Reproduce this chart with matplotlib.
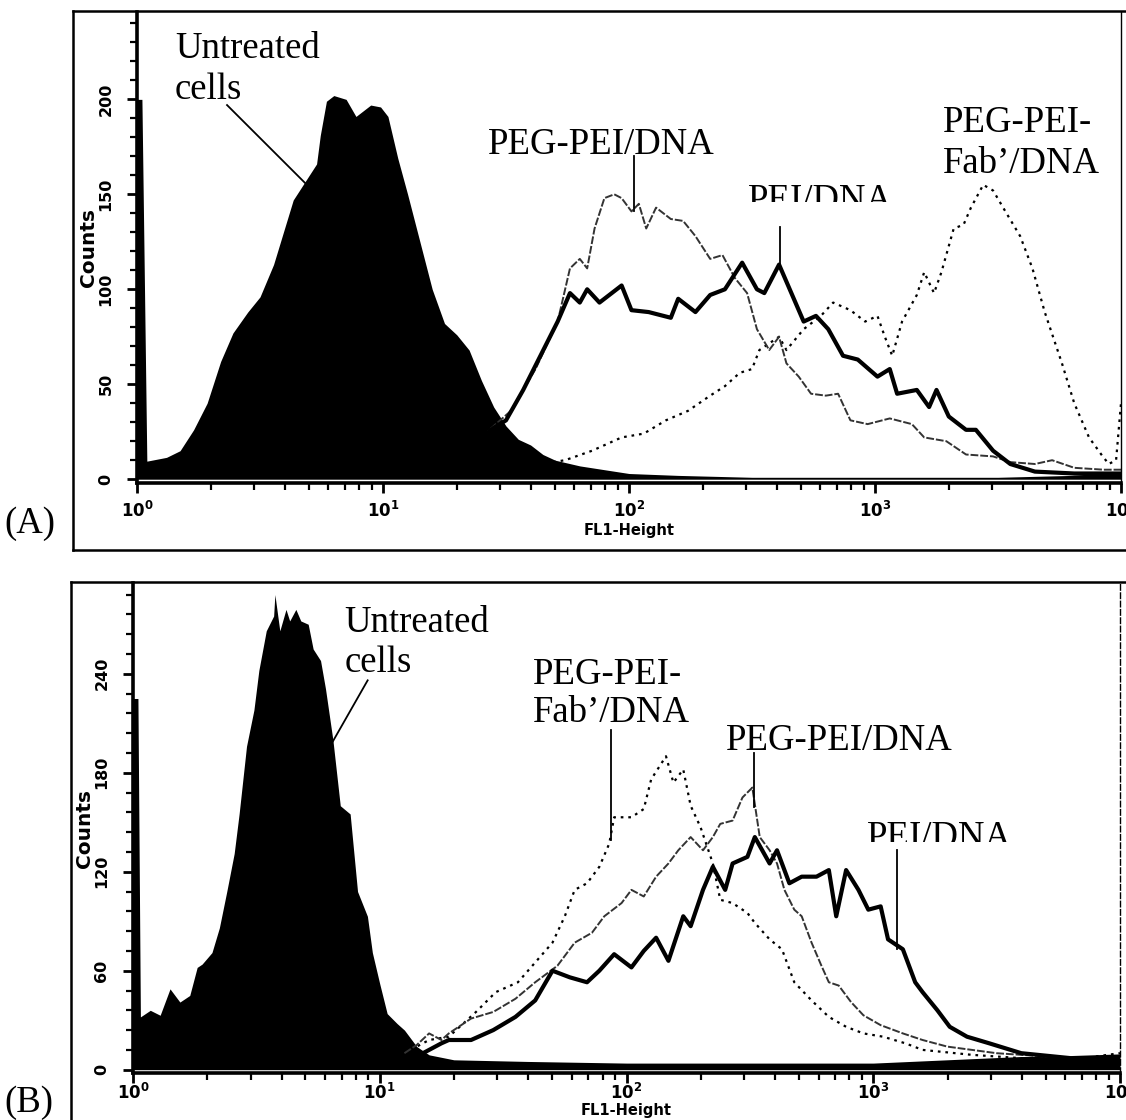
import numpy as np
import matplotlib
matplotlib.use('Agg')
import matplotlib.pyplot as plt
from matplotlib.lines import Line2D
from matplotlib.ticker import FixedLocator, LogLocator, NullFormatter
from matplotlib.transforms import Bbox

# ---------------- panel A data (x in decades of FL1-Height, y in counts) ----------------
a_untr_d = [0.00, 0.02, 0.04, 0.12, 0.175, 0.23, 0.285, 0.34, 0.39, 0.45, 0.50, 0.555, 0.595,
            0.635, 0.69, 0.73, 0.745, 0.77, 0.80, 0.85, 0.89, 0.95, 0.99, 1.02, 1.06, 1.10, 1.15,
            1.20, 1.25, 1.30, 1.35, 1.40, 1.45, 1.50, 1.55, 1.60, 1.65, 1.70, 1.80, 1.90, 2.00,
            2.20, 2.50, 3.00, 3.50, 3.80, 3.90, 4.00]
a_untr_c = [200, 200, 9.5, 11.5, 15, 26, 40, 62, 77, 88, 96, 113, 130,
            147, 158, 166, 181, 199, 202, 200, 191, 197, 196, 191, 169, 150, 125,
            100, 82, 76, 68, 52, 38, 28, 21, 18, 13, 10, 7, 5, 3,
            2, 1, 1, 1, 2, 3, 3]

a_pei_d = [1.30, 1.35, 1.40, 1.45, 1.50, 1.57, 1.64, 1.71, 1.76, 1.80, 1.83, 1.88, 1.92, 1.97,
           2.01, 2.08, 2.17, 2.20, 2.27, 2.33, 2.39, 2.46, 2.52, 2.55, 2.61, 2.66, 2.71, 2.76,
           2.81, 2.87, 2.93, 3.01, 3.06, 3.09, 3.17, 3.22, 3.25, 3.30, 3.37, 3.41, 3.48, 3.55,
           3.65, 3.81, 4.00]
a_pei_c = [8, 14, 22, 27, 31, 47, 65, 83, 98, 93, 100, 93, 97, 102,
           89, 88, 85, 95, 88, 97, 100, 114, 100, 98, 113, 98, 83, 86,
           79, 65, 63, 54, 58, 45, 47, 38, 47, 33, 26, 26, 15, 8,
           4, 3, 3]

a_peg_d = [1.30, 1.35, 1.40, 1.45, 1.52, 1.62, 1.71, 1.76, 1.80, 1.83, 1.86, 1.90, 1.94, 1.97,
           2.01, 2.04, 2.07, 2.11, 2.17, 2.22, 2.27, 2.33, 2.38, 2.43, 2.48, 2.52, 2.57, 2.61,
           2.64, 2.69, 2.74, 2.80, 2.85, 2.90, 2.97, 3.06, 3.15, 3.20, 3.29, 3.37, 3.48, 3.55,
           3.65, 3.72, 3.81, 3.93, 4.00]
a_peg_c = [8, 14, 22, 28, 36, 58, 83, 111, 116, 111, 132, 148, 150, 148,
           141, 145, 132, 143, 137, 136, 128, 116, 118, 106, 98, 79, 68, 75,
           61, 54, 45, 44, 45, 31, 29, 32, 29, 22, 20, 13, 12, 9,
           8, 10, 6, 5, 5]

a_fab_d = [1.54, 1.74, 1.85, 1.97, 2.06, 2.15, 2.24, 2.33, 2.39, 2.45, 2.50, 2.53, 2.61, 2.64,
           2.71, 2.78, 2.83, 2.90, 2.96, 3.01, 3.04, 3.07, 3.11, 3.17, 3.20, 3.24, 3.27, 3.32,
           3.36, 3.39, 3.44, 3.48, 3.53, 3.59, 3.64, 3.69, 3.76, 3.81, 3.87, 3.92, 3.95, 3.98,
           4.00]
a_fab_c = [6, 10, 15, 22, 24, 31, 36, 44, 49, 56, 58, 68, 75, 68,
           79, 86, 93, 89, 83, 86, 75, 65, 83, 97, 109, 98, 109, 132,
           134, 143, 155, 152, 141, 128, 111, 88, 61, 40, 22, 13, 8, 10,
           40]

# ---------------- panel B data ----------------
b_untr_d = [0.00, 0.02, 0.03, 0.07, 0.11, 0.15, 0.19, 0.23, 0.26, 0.28, 0.32, 0.35, 0.38, 0.41,
            0.43, 0.46, 0.49, 0.51, 0.54, 0.57, 0.575, 0.595, 0.62, 0.635, 0.66, 0.68, 0.71,
            0.73, 0.76, 0.78, 0.81, 0.84, 0.88, 0.91, 0.95, 0.97, 1.00, 1.03, 1.07, 1.10, 1.15,
            1.20, 1.30, 1.60, 2.00, 2.50, 3.00, 3.30, 3.60, 4.00]
b_untr_c = [225, 225, 32, 36, 33, 49, 41, 45, 62, 64, 71, 86, 108, 131,
            155, 196, 218, 242, 266, 275, 288, 266, 279, 272, 279, 272, 270,
            255, 248, 231, 200, 160, 155, 108, 93, 71, 52, 34, 28, 24, 14,
            9, 6, 5, 4, 4, 4, 6, 8, 8]

b_fab_d = [1.10, 1.15, 1.20, 1.28, 1.39, 1.47, 1.56, 1.63, 1.70, 1.75, 1.79, 1.84, 1.89, 1.93,
           1.95, 2.02, 2.07, 2.10, 2.16, 2.19, 2.23, 2.26, 2.30, 2.35, 2.38, 2.43, 2.49, 2.52,
           2.58, 2.63, 2.68, 2.75, 2.82, 2.89, 2.96, 3.04, 3.13, 3.20, 3.40, 3.60, 3.80, 4.00]
b_fab_c = [10, 14, 18, 20, 35, 47, 53, 65, 77, 93, 109, 113, 123, 137,
           153, 153, 158, 176, 190, 174, 182, 160, 147, 125, 103, 101, 95, 89,
           79, 73, 53, 42, 32, 26, 22, 20, 16, 12, 9, 7, 6, 10]

b_peg_d = [1.10, 1.15, 1.20, 1.25, 1.28, 1.37, 1.46, 1.55, 1.63, 1.72, 1.79, 1.86, 1.91, 1.98,
           2.02, 2.07, 2.12, 2.17, 2.21, 2.26, 2.31, 2.35, 2.38, 2.43, 2.47, 2.51, 2.52, 2.54,
           2.58, 2.61, 2.64, 2.68, 2.71, 2.75, 2.79, 2.82, 2.86, 2.91, 2.96, 3.03, 3.12, 3.20,
           3.30, 3.50, 3.70, 3.90, 4.00]
b_peg_c = [10, 15, 22, 18, 22, 31, 35, 43, 53, 63, 77, 83, 93, 101,
           109, 105, 117, 125, 133, 141, 133, 141, 149, 151, 165, 171, 161, 141,
           133, 125, 109, 97, 93, 77, 63, 53, 51, 41, 33, 27, 22, 18,
           14, 10, 8, 7, 8]

b_pei_d = [1.15, 1.20, 1.25, 1.28, 1.37, 1.46, 1.55, 1.63, 1.70, 1.77, 1.84, 1.89, 1.95, 2.02,
           2.07, 2.12, 2.17, 2.23, 2.26, 2.31, 2.35, 2.40, 2.43, 2.49, 2.52, 2.58, 2.61, 2.66,
           2.71, 2.77, 2.82, 2.85, 2.89, 2.94, 2.98, 3.03, 3.06, 3.12, 3.17, 3.20, 3.26, 3.31,
           3.38, 3.47, 3.60, 3.80, 4.00]
b_pei_c = [8, 12, 16, 18, 18, 24, 32, 42, 60, 56, 53, 60, 70, 62,
           72, 80, 66, 93, 87, 109, 123, 109, 125, 129, 141, 125, 133, 113,
           117, 117, 121, 93, 121, 109, 97, 99, 79, 73, 53, 47, 36, 26,
           20, 16, 10, 7, 8]

x_ticks = [1, 10, 100, 1000, 10000]
x_labels = [r'$\mathbf{10^{0}}$', r'$\mathbf{10^{1}}$', r'$\mathbf{10^{2}}$',
            r'$\mathbf{10^{3}}$', r'$\mathbf{10^{4}}$']
a_yticks = [0, 50, 100, 150, 200]
b_yticks = [0, 60, 120, 180, 240]

W, H = 1126, 1120
fig = plt.figure(figsize=(W / 100, H / 100), dpi=100)
serif = ['Liberation Serif', 'DejaVu Serif']
lab_fs = 26.5


def px(x, y):
    # figure pixel (from top-left) -> figure fraction
    return x / W, 1 - y / H


def style_axis(ax, ymax, yticks, yminor, xpad, xlabelpad):
    ax.set_xscale('log')
    ax.set_xlim(1, 1e4)
    ax.set_ylim(-2, ymax)
    ax.spines['top'].set_visible(False)
    ax.spines['left'].set_linewidth(2.6)
    ax.spines['bottom'].set_linewidth(2.6)
    ax.spines['right'].set_linewidth(1.0)
    ax.set_xticks(x_ticks)
    ax.set_xticklabels(x_labels, fontsize=12)
    ax.xaxis.set_minor_locator(LogLocator(base=10, subs=np.arange(2, 10)))
    ax.xaxis.set_minor_formatter(NullFormatter())
    ax.set_yticks(yticks)
    ax.set_yticklabels([str(v) for v in yticks], rotation=90, va='center',
                       fontsize=11.5, fontweight='bold')
    ax.yaxis.set_minor_locator(FixedLocator(yminor))
    ax.tick_params(which='major', direction='out', length=7, width=2)
    ax.tick_params(axis='x', which='major', pad=xpad)
    ax.tick_params(axis='y', which='major', pad=10)
    ax.tick_params(which='minor', direction='out', length=5, width=1.6)
    ax.set_ylabel('Counts', fontsize=14.5, fontweight='bold', labelpad=0)
    ax.set_xlabel('FL1-Height', fontsize=10.5, fontweight='bold', labelpad=xlabelpad)
    ax.set_facecolor('none')


# ---------------- panel A ----------------
axA = fig.add_axes([137 / W, 1 - 483 / H, (1121 - 137) / W, (483 - 12) / H])
axA.fill_between(10 ** np.array(a_untr_d), a_untr_c, 0, color='black', lw=0)
axA.plot(10 ** np.array(a_fab_d), a_fab_c, color='black', lw=1.6, ls=(0, (1.2, 2.2)))
axA.plot(10 ** np.array(a_peg_d), a_peg_c, color='#333333', lw=1.4, ls=(0, (4, 1)))
axA.plot(10 ** np.array(a_pei_d), a_pei_c, color='black', lw=3.0)
style_axis(axA, 246, a_yticks, np.arange(0, 250, 10), 6, 1)

axA.text(10 ** 0.154, 222, 'Untreated', family=serif, fontsize=lab_fs, va='baseline')
axA.text(10 ** 0.154, 200, 'cells', family=serif, fontsize=lab_fs, va='baseline')
axA.plot(10 ** np.array([0.366, 0.683]), [197, 156], color='black', lw=1.3)
axA.text(10 ** 1.886, 171, 'PEG-PEI/DNA', family=serif, fontsize=lab_fs, ha='center', va='baseline')
axA.plot([10 ** 2.02, 10 ** 2.02], [170, 141], color='black', lw=1.3)
tA = axA.text(10 ** 2.78, 142, 'PEI/DNA', family=serif, fontsize=lab_fs, ha='center', va='baseline')
tA.set_clip_box(Bbox.from_extents(0, H - 202, W, H))
tA.set_clip_on(True)
axA.plot([10 ** 2.614, 10 ** 2.614], [133, 113], color='black', lw=1.3)
axA.text(10 ** 3.276, 183, 'PEG-PEI-', family=serif, fontsize=lab_fs, va='baseline')
axA.text(10 ** 3.276, 161, 'Fab\u2019/DNA', family=serif, fontsize=lab_fs, va='baseline')

# ---------------- panel B ----------------
axB = fig.add_axes([133 / W, 1 - 1073 / H, (1120 - 133) / W, (1073 - 583) / H])
axB.fill_between(10 ** np.array(b_untr_d), b_untr_c, 0, color='black', lw=0)
axB.plot(10 ** np.array(b_fab_d), b_fab_c, color='black', lw=1.6, ls=(0, (1.2, 2.2)))
axB.plot(10 ** np.array(b_peg_d), b_peg_c, color='#333333', lw=1.4, ls=(0, (4, 1)))
axB.plot(10 ** np.array(b_pei_d), b_pei_c, color='black', lw=3.0)
style_axis(axB, 295, b_yticks, np.arange(0, 300, 12), 0, 0)
axB.spines['right'].set_linestyle((0, (4, 2)))

axB.text(10 ** 0.858, 265, 'Untreated', family=serif, fontsize=lab_fs, va='baseline')
axB.text(10 ** 0.858, 241, 'cells', family=serif, fontsize=lab_fs, va='baseline')
axB.plot(10 ** np.array([0.951, 0.81]), [236, 199], color='black', lw=1.3)
axB.text(10 ** 1.619, 234, 'PEG-PEI-', family=serif, fontsize=lab_fs, va='baseline')
axB.text(10 ** 1.619, 211, 'Fab\u2019/DNA', family=serif, fontsize=lab_fs, va='baseline')
axB.plot([10 ** 1.939, 10 ** 1.939], [206, 139], color='black', lw=1.3)
axB.text(10 ** 2.862, 194, 'PEG-PEI/DNA', family=serif, fontsize=lab_fs, ha='center', va='baseline')
axB.plot([10 ** 2.518, 10 ** 2.518], [192, 159], color='black', lw=1.3)
tB = axB.text(10 ** 3.27, 135, 'PEI/DNA', family=serif, fontsize=lab_fs, ha='center', va='baseline')
tB.set_clip_box(Bbox.from_extents(0, H - 842, W, H))
tB.set_clip_on(True)
axB.plot([10 ** 3.097, 10 ** 3.097], [133, 73], color='black', lw=1.3)

# ---------------- outer frames and panel letters ----------------
for (x0, y0, x1, y1) in [(73, 11, 1130, 11), (73, 11, 73, 550), (73, 550, 1130, 550),
                         (71, 582, 1130, 582), (71, 582, 71, 1125)]:
    fx0, fy0 = px(x0, y0)
    fx1, fy1 = px(x1, y1)
    fig.add_artist(Line2D([fx0, fx1], [fy0, fy1], color='black', lw=1.8))

fig.text(*px(4, 533), '(A)', family=serif, fontsize=lab_fs, va='baseline')
fig.text(*px(4, 1112), '(B)', family=serif, fontsize=lab_fs, va='baseline')

fig.savefig('out.png', dpi=100, facecolor='white')
